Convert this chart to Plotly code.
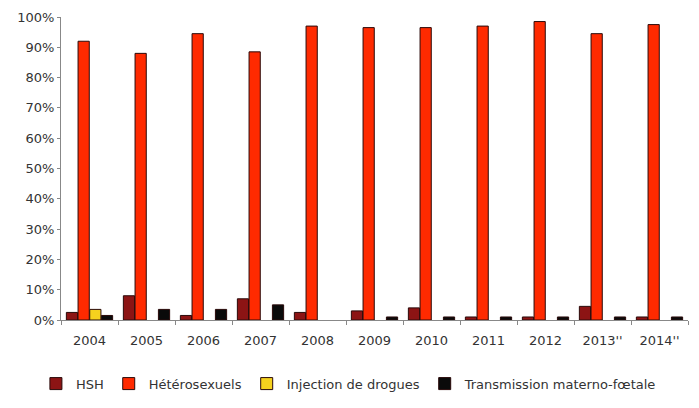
import plotly.graph_objects as go

years = ['2004', '2005', '2006', '2007', '2008', '2009', '2010', '2011', '2012', "2013''", "2014''"]
hsh = [2.5, 8, 1.5, 7, 2.5, 3, 4, 1, 1, 4.5, 1]
hetero = [92, 88, 94.5, 88.5, 97, 96.5, 96.5, 97, 98.5, 94.5, 97.5]
injection = [3.5, None, None, None, None, None, None, None, None, None, None]
transmission = [1.5, 3.5, 3.5, 5, None, 1, 1, 1, 1, 1, 1]

series = [
    ('HSH', hsh, '#8c1414'),
    ('Hétérosexuels', hetero, '#ff2a00'),
    ('Injection de drogues', injection, '#f5d21e'),
    ('Transmission materno-fœtale', transmission, '#0a0a0a'),
]

fig = go.Figure()
for name, vals, color in series:
    fig.add_trace(go.Bar(
        name=name, x=years, y=vals,
        marker=dict(color=color, line=dict(color='#2a0a0a', width=1)),
    ))

# page body has an 8px margin, so the figure is a bit smaller than the window
fig.update_layout(
    barmode='group',
    bargap=0.18,
    bargroupgap=0.04,
    width=691, height=400,
    margin=dict(l=53, r=11, t=9, b=88),
    plot_bgcolor='white',
    paper_bgcolor='white',
    font=dict(family='DejaVu Sans, sans-serif', size=13, color='#333'),
    legend=dict(
        orientation='h', x=-0.04, xanchor='left', y=-0.21, yanchor='middle',
        font=dict(size=13, color='#333'), tracegroupgap=0,
    ),
    xaxis=dict(
        showline=True, linecolor='#888', linewidth=1,
        ticks='outside', tickson='boundaries', ticklen=4, tickcolor='#888',
        ticklabelstandoff=8,
        showgrid=False, automargin=False,
    ),
    yaxis=dict(
        range=[0, 100], dtick=10, ticksuffix='%',
        showline=True, linecolor='#888', linewidth=1,
        ticks='outside', ticklen=3, tickcolor='#888',
        showgrid=False, zeroline=False, automargin=False,
    ),
)

fig.write_html("out.html")
